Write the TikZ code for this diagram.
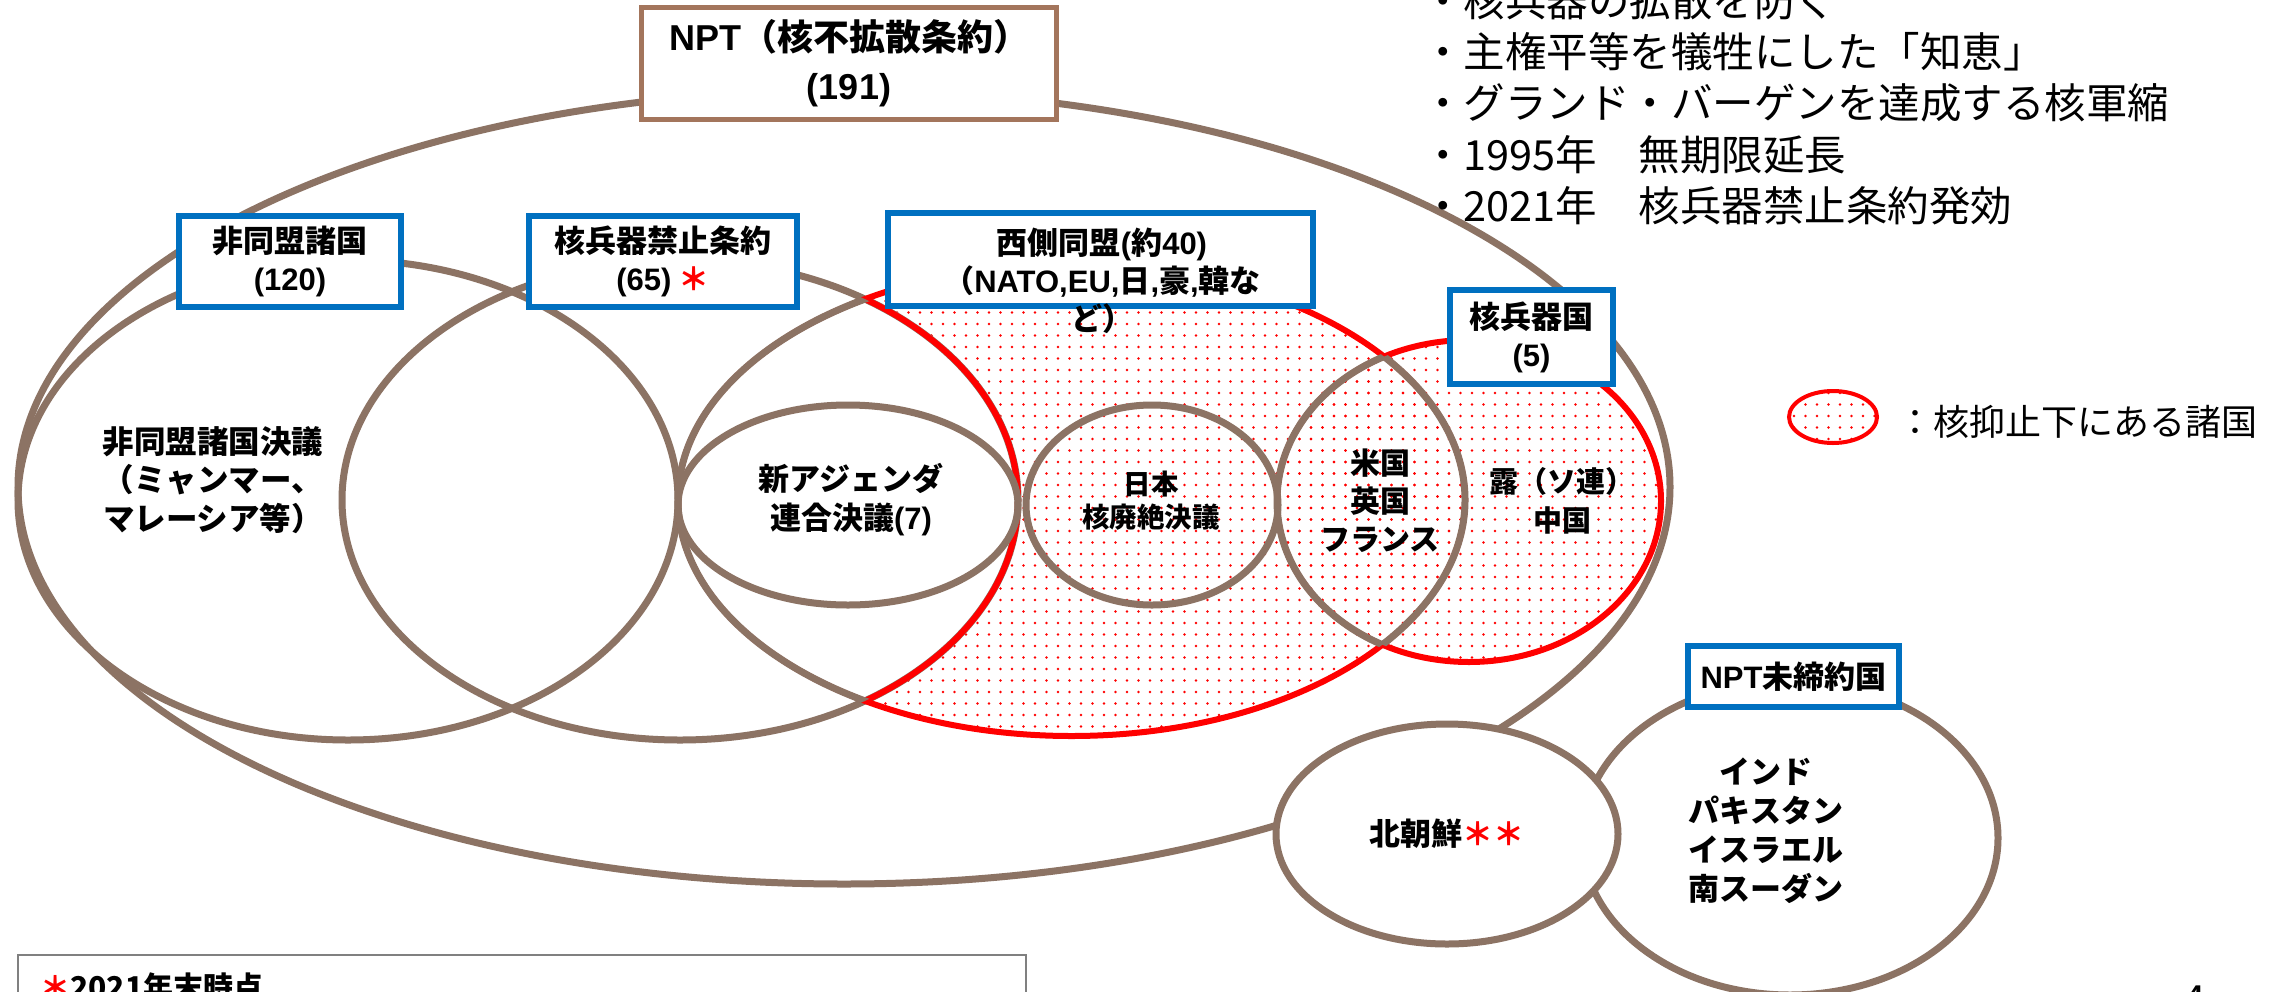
\documentclass[tikz,border=0pt]{standalone}
\usepackage{fontspec}
\setmainfont{Noto Sans CJK JP}
\newfontfamily\latf{Liberation Sans}
\usetikzlibrary{patterns.meta}
\definecolor{brn}{RGB}{140,115,100}
\definecolor{nptb}{RGB}{163,117,92}
\definecolor{blu}{RGB}{0,112,192}
\newcommand\la[1]{{\latf #1}}
\newcommand\fs[2]{\fontsize{#1pt}{#2pt}\selectfont}
\def\pH{(844,487) ellipse [x radius=826pt, y radius=397pt]}
\def\pA{(348,500) ellipse [x radius=330pt, y radius=240pt]}
\def\pB{(680,500) ellipse [x radius=338pt, y radius=240pt]}
\def\pC{(1071.5,500) ellipse [x radius=393.5pt, y radius=236pt]}
\def\pD{(1469,501) ellipse [x radius=192pt, y radius=161pt]}
\def\pF{(848,505) ellipse [x radius=170pt, y radius=100pt]}
\def\pG{(1152,505) ellipse [x radius=126pt, y radius=100pt]}
\def\pI{(1447,834) ellipse [x radius=171pt, y radius=110pt]}
\def\pJ{(1790,838) ellipse [x radius=208pt, y radius=157pt]}
\tikzset{
  brownline/.style={draw=brn, line width=7pt},
  redline/.style={draw=red, line width=6pt},
  dotfill/.style={pattern={Dots[distance=11.5pt, radius=1.4pt]}, pattern color=red},
  bluebox/.style={draw=blu, line width=6pt, fill=white, inner sep=0pt, align=center, font=\bfseries\fs{31}{38}},
  lbl/.style={inner sep=0pt, align=center, font=\bfseries\fs{31}{39}},
  listline/.style={anchor=base west, inner sep=0pt, font=\fs{41.5}{50}},
}
\begin{document}
\begin{tikzpicture}[x=1pt,y=-1pt]
\useasboundingbox (0,0) rectangle (2285,991);
\fill[white] (0,0) rectangle (2285,991);
% dotted region (C u D) minus B
\fill[dotfill] \pC;
\fill[dotfill] \pD;
\fill[white] \pB;
% outlines
\draw[brownline] \pH;
\draw[brownline] \pA;
\draw[brownline] \pB;
\draw[redline] \pC;
\draw[redline] \pD;
\begin{scope}\clip \pC; \draw[redline] \pB; \end{scope}
\begin{scope}\clip \pB; \draw[brownline] \pC; \end{scope}
\begin{scope}\clip \pD; \draw[brownline] \pC; \end{scope}
\begin{scope}\clip \pC; \draw[brownline] \pD; \end{scope}
\draw[brownline] \pF;
\draw[brownline] \pG;
\filldraw[brownline, fill=white] \pJ;
\filldraw[brownline, fill=white] \pI;
% boxes
\node[draw=nptb, line width=5pt, fill=white, inner sep=0pt, align=center,
  font=\bfseries\fs{36}{49}, minimum width=415pt, minimum height=112pt] (npt) at (849,63.5)
  {\la{NPT}（核不拡散条約）\\\la{(191)}};
\node[bluebox, minimum width=222pt, minimum height=91pt] (nam) at (290,261.5) {非同盟諸国\\\la{(120)}};
\node[bluebox, minimum width=268pt, minimum height=91pt] (tpnw) at (663,261.5) {核兵器禁止条約\\\la{(65)} \textcolor{red}{＊}};
\node[bluebox, minimum width=425pt, minimum height=93pt] (west) at (1100.5,259.5) {};
\node[lbl, font=\bfseries\fs{31}{38}] (westt) at (1102,281) {西側同盟\la{(}約\la{40)}\\（\la{NATO,EU,}日\la{,}豪\la{,}韓な\\ど）};
\node[bluebox, minimum width=163pt, minimum height=94pt] (nws) at (1531.5,337) {核兵器国\\\la{(5)}};
\node[bluebox, minimum width=211pt, minimum height=61pt] (non) at (1793.5,676.5) {\la{NPT}未締約国};
% labels
\node[lbl, font=\bfseries\fs{31.5}{38.5}] (namr) at (213,480) {非同盟諸国決議\\（ミャンマー、\\マレーシア等）};
\node[lbl] (nac) at (851,500) {新アジェンダ\\連合決議\la{(7)}};
\node[lbl, font=\bfseries\fs{27.5}{33}] (jpn) at (1151,501) {日本\\核廃絶決議};
\node[lbl, font=\bfseries\fs{30}{38}] (p3) at (1380,501) {米国\\英国\\フランス};
\node[lbl, font=\bfseries\fs{29}{39}] (rc) at (1562,501) {露（ソ連）\\中国};
\node[lbl] (nk) at (1447,834) {北朝鮮\textcolor{red}{＊＊}};
\node[lbl] (oth) at (1766,831) {インド\\パキスタン\\イスラエル\\南スーダン};
% list
\node[listline] (l1) at (1422,16) {・核兵器の拡散を防ぐ};
\node[listline] (l2) at (1422,67) {・主権平等を犠牲にした「知恵」};
\node[listline] (l3) at (1422,118) {・グランド・バーゲンを達成する核軍縮};
\node[listline] (l4) at (1422,170) {・1995年　無期限延長};
\node[listline] (l5) at (1422,221) {・2021年　核兵器禁止条約発効};
% legend
\path[dotfill, draw=red, line width=4pt] (1833,417) ellipse [x radius=44pt, y radius=26pt];
\node[anchor=west, inner sep=0pt, font=\fs{36}{40}] (lg) at (1897,422) {：核抑止下にある諸国};
% note
\draw[gray, line width=2pt] (18,955) rectangle (1026,1030);
\node[anchor=base west, inner sep=0pt, font=\bfseries\fs{30}{36}] (note) at (40,998) {\textcolor{red}{＊}2021年末時点};
\node[anchor=base, inner sep=0pt, font=\bfseries\fs{30}{36}] (pg) at (2195,1006) {\la{4}};
\end{tikzpicture}
\end{document}
